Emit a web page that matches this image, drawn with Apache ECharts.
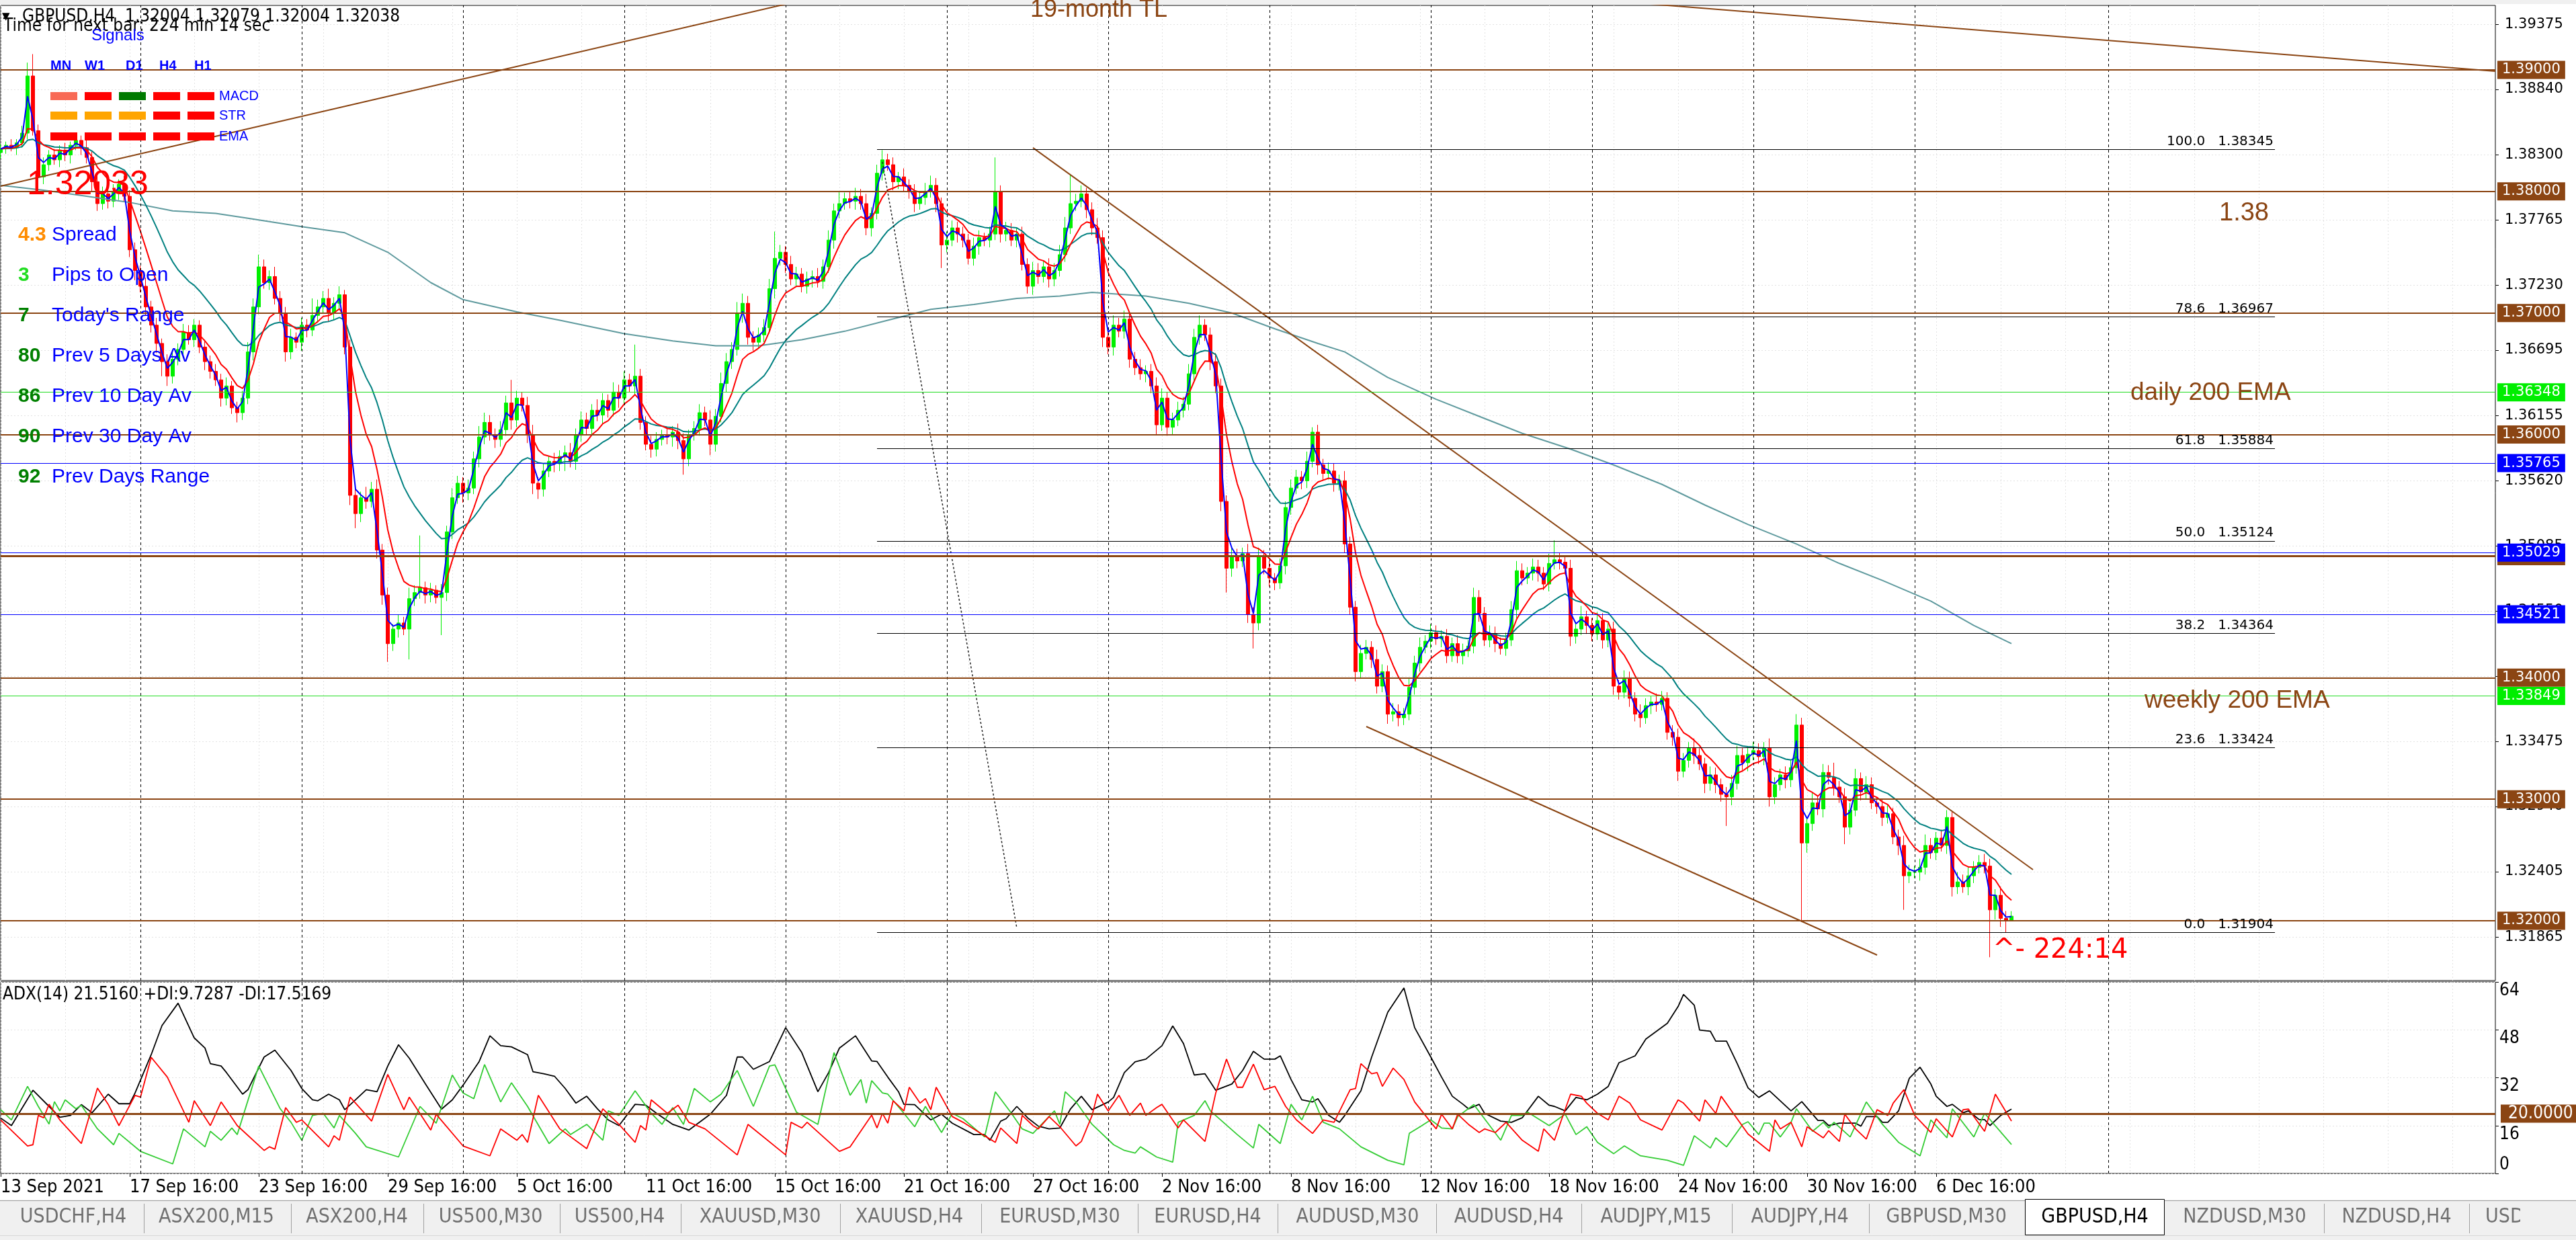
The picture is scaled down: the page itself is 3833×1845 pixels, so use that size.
<!DOCTYPE html>
<html>
<head>
<meta charset="utf-8">
<title>GBPUSD,H4</title>
<script src="https://cdn.jsdelivr.net/npm/echarts@6/dist/echarts.min.js"></script>
<style>
html,body{margin:0;padding:0;background:#ffffff;overflow:hidden}
#chart{width:3833px;height:1845px}
</style>
</head>
<body>
<div id="chart"></div>
<script>
// ================= DATA =================
// H4 candles, prices in pips after "1." (e.g. 3835 -> 1.3835); open = previous close
const firstOpen = 3832;
const closePips = [
3835,3838,3836,3840,3848,3895,3850,3812,3822,3830,
3826,3834,3830,3838,3842,3836,3828,3808,3790,3798,
3792,3800,3806,3796,3752,3735,3722,3705,3690,3675,
3660,3648,3662,3670,3684,3678,3690,3672,3660,3652,
3645,3630,3640,3622,3618,3630,3668,3705,3738,3725,
3730,3712,3700,3668,3680,3676,3690,3686,3698,3705,
3712,3700,3708,3715,3672,3550,3535,3548,3545,3555,
3505,3468,3428,3440,3445,3440,3465,3470,3474,3468,
3472,3466,3470,3520,3548,3560,3552,3556,3580,3598,
3610,3600,3596,3604,3626,3612,3630,3624,3600,3560,
3555,3570,3578,3576,3582,3585,3578,3600,3612,3605,
3620,3616,3628,3620,3635,3630,3645,3640,3648,3610,
3592,3588,3596,3600,3598,3602,3595,3580,3600,3605,
3618,3612,3592,3615,3642,3660,3670,3700,3708,3680,
3676,3682,3688,3720,3745,3750,3740,3728,3732,3722,
3728,3730,3726,3738,3760,3784,3790,3794,3792,3796,
3790,3770,3782,3815,3826,3822,3808,3812,3805,3800,
3790,3795,3800,3805,3790,3756,3760,3770,3765,3760,
3745,3755,3762,3760,3765,3800,3765,3768,3760,3765,
3740,3722,3735,3730,3738,3728,3735,3748,3770,3790,
3792,3798,3785,3770,3762,3680,3672,3690,3685,3695,
3662,3655,3650,3652,3640,3608,3630,3606,3612,3620,
3625,3650,3680,3690,3682,3660,3640,3545,3490,3500,
3496,3502,3452,3445,3500,3490,3482,3478,3492,3540,
3556,3565,3562,3578,3602,3575,3568,3570,3560,3562,
3510,3458,3405,3420,3425,3415,3393,3405,3370,3372,
3367,3370,3392,3412,3425,3430,3437,3432,3434,3418,
3428,3418,3422,3426,3466,3453,3431,3436,3428,3424,
3431,3456,3488,3482,3486,3491,3486,3477,3494,3497,
3495,3490,3434,3440,3450,3443,3436,3447,3431,3440,
3393,3388,3399,3383,3370,3367,3377,3380,3378,3383,
3355,3351,3323,3332,3342,3336,3329,3313,3320,3312,
3304,3302,3313,3336,3330,3337,3340,3335,3342,3302,
3312,3320,3316,3326,3361,3264,3280,3297,3292,3322,
3318,3310,3302,3277,3291,3317,3306,3312,3297,3294,
3285,3288,3269,3262,3237,3240,3240,3244,3262,3256,
3268,3262,3285,3228,3232,3228,3237,3244,3248,3245,
3209,3221,3202,3200.4,3203.8];
// upper / lower wick lengths in pips
const wickUp = [
4,3,5,3,6,11,18,5,6,4, 5,4,6,3,5,4,6,5,8,6, 5,6,4,7,5,6,4,7,5,6, 4,6,8,5,7,6,5,4,6,5,
6,5,7,4,5,6,8,7,10,6, 5,8,6,5,7,4,6,5,14,6, 6,8,5,7,4,6,8,5,9,6, 8,5,6,4,7,5,9,6,43,5,
6,4,7,5,8,6,5,7,6,9, 8,6,5,7,6,19,6,5,7,8, 5,6,4,7,5,6,8,5,7,6, 5,9,6,5,8,6,7,5,26,6,
5,7,6,4,6,5,7,6,4,6, 7,5,8,6,9,7,6,9,8,6, 5,6,7,8,22,6,5,7,6,5, 6,5,7,6,8,6,10,5,6,7,
6,8,5,7,8,5,6,4,7,5, 6,5,7,8,6,5,7,6,5,6, 5,7,6,4,6,28,5,7,6,5, 6,5,7,6,5,7,6,8,9,24,
6,7,5,6,8,6,5,8,6,7, 5,6,7,5,6,7,8,5,6,7, 6,8,7,8,5,6,7,6,5,7, 6,5,8,6,7,5,6,4,6,5,
7,6,5,8,4,6,5,7,6,5, 8,6,5,7,6,5,8,6,5,7, 6,5,7,6,8,5,7,6,5,6, 5,7,6,5,8,6,5,7,6,5,
6,7,8,6,5,7,6,5,8,16, 6,5,7,6,9,5,6,7,6,5, 6,5,7,6,5,8,6,5,7,6, 5,6,7,6,5,8,6,5,7,6,
5,6,7,8,6,5,7,6,5,8, 6,5,7,6,9,6,5,8,6,7, 6,12,5,7,6,8,5,7,6,5, 6,7,5,6,8,6,5,7,9,6,
5,7,6,5,8,6,7,5,6,7, 6,5,7,6,4.1];
const wickDn = [
5,4,3,6,4,5,4,8,6,5, 4,6,5,7,4,6,5,8,6,5, 6,5,7,4,6,8,5,7,6,8, 12,8,6,5,7,4,6,5,7,6,
5,7,6,5,8,6,5,7,6,5, 6,5,7,8,6,5,7,6,5,6, 5,7,6,5,6,8,12,7,6,5, 7,8,15,6,7,5,25,6,5,7,
6,5,31,7,6,5,8,6,5,7, 6,5,7,6,5,8,6,5,7,9, 8,6,5,7,6,12,5,7,6,5, 6,5,7,6,5,8,6,5,7,6,
5,7,6,5,6,8,7,13,6,5, 6,5,9,6,5,7,6,5,8,6, 7,5,6,5,8,6,7,5,6,5, 6,7,5,6,5,7,6,5,6,7,
5,6,7,5,6,5,7,6,5,6, 7,5,6,5,7,19,6,5,7,6, 5,6,7,5,6,5,7,6,5,6, 5,6,7,6,5,7,6,5,6,5,
6,5,7,6,5,8,6,7,5,6, 7,6,5,7,6,8,5,7,6,5, 6,5,7,6,5,7,6,8,20,7, 6,5,7,21,6,5,7,6,5,7,
6,5,7,6,5,8,6,5,7,6, 7,6,8,6,5,7,6,5,8,6, 7,6,5,6,7,5,6,5,7,6, 5,6,7,5,6,7,5,6,7,5,
6,5,7,6,5,6,7,5,6,5, 6,5,8,6,5,7,6,5,7,6, 7,6,5,7,6,8,5,7,6,5, 6,7,8,5,6,7,5,8,6,7,
6,24,7,5,6,7,5,6,7,8, 6,5,7,6,5,65,8,6,5,7, 6,7,5,14,6,5,7,6,5,6, 7,5,6,8,28,6,5,7,6,5,
6,5,7,8,6,5,7,6,5,6, 39,8,7,10,0];
// slow moving average (grey-teal), [bar, pips]
const slowMA = [[0,3805],[8,3801],[16,3796],[24,3791],[32,3784],[40,3782],[46,3778],[56,3771],[64,3766],[72,3750],[80,3725],[86,3711],[96,3701],[104,3694],[116,3683],[125,3677],[133,3673],[141,3673],[149,3678],[157,3685],[165,3694],[173,3703],[181,3707],[189,3712],[197,3714],[203,3717],[213,3714],[221,3708],[229,3700],[237,3687],[245,3675],[250,3668],[258,3647],[267,3629],[275,3615],[283,3601],[292,3588],[300,3575],[309,3559],[317,3542],[325,3526],[334,3510],[342,3494],[350,3480],[359,3463],[367,3443],[374,3428]];
// ADX(14) panel, [bar, value]
const adxMain = [[0,18.5],[2,16.0],[6,27.8],[9,22.4],[11,18.8],[13,19.4],[15,23.0],[17,20.3],[20,26.5],[22,23.3],[24,23.3],[25,26.9],[28,39.7],[30,49.4],[33,56.9],[36,45.3],[38,41.9],[39,36.7],[41,35.9],[42,33.7],[45,26.5],[46,28.0],[49,38.9],[51,41.2],[54,34.4],[56,28.4],[58,24.6],[59,24.3],[61,26.5],[63,24.6],[64,21.3],[66,24.6],[68,28.0],[70,27.3],[72,35.9],[74,43.0],[76,38.5],[79,29.9],[82,21.5],[84,24.6],[86,29.5],[89,37.4],[91,46.0],[93,42.7],[95,42.3],[98,39.7],[99,34.0],[101,33.3],[103,32.5],[105,28.4],[107,23.5],[109,25.8],[111,21.6],[113,17.9],[115,16.0],[118,23.1],[120,22.8],[122,20.1],[125,16.4],[128,14.5],[132,19.8],[135,26.1],[137,38.9],[138,38.9],[140,34.8],[143,37.4],[146,48.7],[149,40.4],[152,27.3],[154,33.7],[156,41.9],[159,46.0],[162,37.6],[163,37.4],[165,32.2],[167,27.3],[168,23.1],[170,23.0],[173,17.9],[175,19.8],[177,16.8],[181,13.0],[183,13.0],[184,11.1],[186,17.5],[187,18.3],[189,22.4],[191,18.6],[193,15.8],[195,14.9],[197,15.2],[199,21.6],[201,25.8],[203,21.3],[206,23.9],[207,25.4],[209,33.7],[211,37.3],[213,38.2],[216,42.7],[218,49.3],[220,43.4],[222,32.9],[224,33.3],[226,27.8],[229,29.9],[231,34.4],[233,40.8],[235,38.2],[237,38.2],[238,39.3],[240,31.4],[242,24.6],[244,23.9],[245,25.0],[247,19.4],[249,17.1],[250,19.4],[253,27.6],[255,38.9],[258,53.9],[261,62.0],[263,48.7],[266,38.9],[268,32.2],[270,25.8],[272,23.1],[273,21.6],[275,23.1],[276,20.1],[279,17.5],[281,17.1],[283,18.6],[286,25.8],[288,22.8],[289,22.4],[291,20.9],[293,25.4],[295,24.6],[297,26.5],[299,29.1],[301,37.0],[304,39.3],[306,44.9],[310,50.2],[312,55.8],[313,59.8],[315,56.2],[316,47.9],[318,47.5],[319,44.2],[321,44.2],[323,36.7],[325,28.6],[327,25.4],[329,27.6],[333,20.9],[335,24.0],[338,17.7],[339,17.7],[340,16.0],[342,16.8],[345,16.8],[346,15.8],[347,19.0],[349,19.0],[350,17.1],[351,17.1],[353,20.9],[355,31.8],[357,35.5],[359,29.9],[360,25.8],[362,22.4],[363,23.1],[365,20.3],[366,20.9],[368,18.0],[369,18.0],[370,16.0],[372,19.4],[374,21.5]];
const plusDI = [[0,21.3],[2,17.9],[5,29.1],[7,22.4],[9,16.5],[10,24.0],[11,20.9],[12,24.6],[14,21.6],[15,22.8],[18,14.9],[21,9.6],[22,13.4],[26,7.4],[32,3.2],[34,14.9],[38,8.9],[39,14.1],[41,11.1],[43,15.2],[44,13.0],[48,35.9],[52,21.6],[54,17.1],[56,11.1],[58,19.4],[60,20.1],[62,15.2],[63,19.4],[66,13.4],[68,8.9],[74,5.5],[78,22.4],[81,16.8],[84,32.9],[86,26.9],[88,25.0],[90,36.4],[93,23.9],[95,30.3],[98,22.4],[102,10.0],[105,14.9],[106,13.0],[109,16.4],[112,11.1],[113,20.9],[115,19.4],[118,27.6],[121,20.1],[123,16.4],[125,22.0],[127,16.4],[129,28.4],[132,23.9],[134,26.5],[137,34.4],[140,22.4],[143,35.9],[144,36.3],[148,20.5],[152,16.4],[155,40.4],[158,26.1],[160,31.4],[161,23.5],[162,31.0],[164,26.9],[165,26.5],[168,20.1],[170,15.6],[172,22.4],[175,13.7],[177,20.1],[179,18.3],[183,12.2],[185,27.3],[188,20.1],[190,14.9],[192,13.4],[196,20.9],[197,16.4],[198,27.3],[200,23.9],[203,16.4],[207,9.6],[209,7.7],[211,6.8],[212,8.9],[215,5.5],[218,3.8],[219,17.1],[222,19.4],[224,24.3],[225,20.9],[230,13.0],[233,8.5],[234,16.4],[238,10.0],[240,23.1],[242,17.9],[244,25.8],[246,17.1],[249,14.9],[253,8.9],[258,4.4],[261,2.9],[262,13.4],[264,15.6],[266,17.9],[268,15.2],[270,14.9],[271,19.0],[274,23.0],[279,11.1],[281,19.4],[283,19.4],[284,20.5],[288,16.0],[291,19.8],[293,13.0],[295,15.6],[297,10.4],[300,6.6],[302,9.2],[305,5.9],[310,4.4],[313,2.7],[315,12.6],[318,8.5],[319,11.9],[321,8.9],[324,16.4],[325,17.3],[327,13.0],[328,16.8],[329,16.8],[331,12.2],[333,17.1],[334,21.6],[337,14.1],[339,17.1],[340,15.2],[341,17.1],[344,12.2],[347,23.9],[350,16.4],[353,10.4],[357,5.9],[359,17.9],[362,11.9],[363,21.6],[367,12.2],[369,20.1],[374,9.7]];
const minusDI = [[0,17.9],[5,9.2],[6,9.6],[7,19.4],[8,18.6],[9,23.1],[11,17.9],[15,10.0],[18,28.5],[20,23.1],[22,16.0],[23,19.4],[25,26.1],[26,25.5],[28,38.8],[31,32.2],[35,17.1],[36,24.3],[39,16.0],[41,23.9],[44,16.0],[49,7.7],[50,8.9],[51,8.1],[53,22.0],[55,17.1],[56,17.9],[61,8.9],[62,12.6],[63,11.1],[65,25.5],[69,17.5],[72,33.1],[75,21.3],[76,25.5],[80,14.5],[81,19.8],[86,9.2],[91,5.9],[93,14.9],[96,11.1],[97,13.0],[98,10.4],[100,26.1],[104,14.9],[109,8.3],[112,21.6],[115,16.4],[118,10.4],[119,16.0],[120,14.5],[121,24.6],[124,20.1],[126,22.8],[128,17.1],[131,14.9],[137,6.2],[139,16.4],[146,6.2],[147,17.1],[149,15.2],[150,17.1],[156,7.4],[158,8.9],[162,19.5],[163,15.2],[164,20.1],[165,16.8],[166,24.3],[168,20.9],[169,28.8],[171,23.5],[172,25.0],[173,21.3],[174,28.8],[177,19.0],[179,17.1],[183,12.6],[185,10.4],[186,15.2],[189,10.0],[190,19.4],[192,16.0],[193,14.9],[195,19.0],[197,15.6],[200,9.2],[201,10.7],[203,19.4],[204,26.5],[206,20.9],[208,26.1],[210,19.4],[212,23.5],[213,19.4],[215,22.0],[216,23.1],[219,15.2],[220,17.9],[224,10.7],[226,26.9],[228,38.2],[230,28.8],[231,28.8],[233,36.5],[235,28.0],[237,29.1],[239,22.4],[241,17.9],[244,13.4],[246,17.9],[248,17.1],[251,28.0],[252,28.4],[253,36.7],[255,33.3],[256,33.7],[257,29.1],[259,35.2],[261,31.4],[263,23.9],[266,17.1],[267,14.9],[268,19.8],[270,14.9],[271,19.8],[273,16.4],[275,13.7],[276,14.9],[278,13.7],[280,17.1],[283,11.1],[286,7.4],[287,14.9],[289,11.1],[290,16.4],[292,26.5],[294,25.8],[295,23.5],[297,20.1],[299,17.9],[301,25.8],[303,23.5],[305,17.9],[309,14.5],[312,24.6],[313,23.5],[316,17.5],[317,24.6],[319,20.1],[320,25.8],[325,13.2],[329,7.4],[330,17.9],[331,14.9],[333,17.1],[335,8.9],[336,15.6],[339,11.9],[340,14.3],[342,10.7],[343,19.8],[345,14.9],[347,11.5],[349,21.3],[351,19.4],[352,23.5],[354,28.0],[356,19.4],[359,13.7],[360,18.3],[363,12.2],[365,21.3],[366,21.5],[369,14.1],[371,26.5],[374,17.5]];

const priceTicks = [1.39375,1.38840,1.38300,1.37765,1.37230,1.36695,1.36155,1.35620,1.35085,1.34550,1.34010,1.33475,1.32940,1.32405,1.31865];
const dateLabels = ['13 Sep 2021','17 Sep 16:00','23 Sep 16:00','29 Sep 16:00','5 Oct 16:00','11 Oct 16:00','15 Oct 16:00','21 Oct 16:00','27 Oct 16:00','2 Nov 16:00','8 Nov 16:00','12 Nov 16:00','18 Nov 16:00','24 Nov 16:00','30 Nov 16:00','6 Dec 16:00'];
const weekSeparators = [26,56,86,116,146,176,206,236,266,296,326,356,392];
const roundLevels = [1.39,1.38,1.37,1.36,1.35,1.34,1.33,1.32];
const greenLevels = [1.36348,1.33849];
const blueLevels = [1.35765,1.35029,1.34521];
const bidPrice = 1.32038;
const fibPct = [100.0,78.6,61.8,50.0,38.2,23.6,0.0];
const fibPrice = [1.38345,1.36967,1.35884,1.35124,1.34364,1.33424,1.31904];
const fibSpan = [163,423];
const trendAsc = [[0,1.38043],[150,1.39582]];
const trendDesc = [[300,1.39566],[464,1.38989]];
const channelUpper = [[192,1.38359],[378,1.32420]];
const channelLower = [[254,1.33598],[349,1.31718]];
const fibDiagonal = [[164,1.38243],[189,1.31939]];
const adxTicks = [0,16,32,48,64];
const adxLevel = 20;
const emaPeriods = {fast:2, mid:8, slow:21};

const headerText = 'GBPUSD,H4  1.32004 1.32079 1.32004 1.32038';
const timerText = 'Time for next bar: 224 min 14 sec';
const adxTitle = 'ADX(14) 21.5160 +DI:9.7287 -DI:17.5169';
const infoRows = [['4.3','Spread'],['3','Pips to Open'],['7',"Today's Range"],['80','Prev 5 Days Av'],['86','Prev 10 Day Av'],['90','Prev 30 Day Av'],['92','Prev Days Range']];
const signalFrames = ['MN','W1','D1','H4','H1'];
const signalRows = ['MACD','STR','EMA'];
const signalState = [['weak-sell','sell','buy','sell','sell'],['neutral','neutral','neutral','sell','sell'],['sell','sell','sell','sell','sell']];
const chartNotes = ['1.32033','19-month TL','1.38','daily 200 EMA','weekly 200 EMA','^- 224:14'];
const tabNames = ['USDCHF,H4','ASX200,M15','ASX200,H4','US500,M30','US500,H4','XAUUSD,M30','XAUUSD,H4','EURUSD,M30','EURUSD,H4','AUDUSD,M30','AUDUSD,H4','AUDJPY,M15','AUDJPY,H4','GBPUSD,M30','GBPUSD,H4','NZDUSD,M30','NZDUSD,H4','USDJPY,M30'];
const activeTab = 'GBPUSD,H4';

// ================= STYLE / LAYOUT =================
const FONT_N = "'Liberation Sans Narrow','DejaVu Sans Condensed','Arial Narrow',sans-serif";
const FONT_T = "'DejaVu Sans',Verdana,Tahoma,sans-serif";
const FONT_A = "'Liberation Sans',Arial,sans-serif";
const BROWN = '#8B4513';
const GRIDC = '#e2e2e2';
const signalColor = {'weak-sell':'#F86A55','sell':'#FF0000','buy':'#007A00','neutral':'#FFA500'};
const infoColors = ['#FF8C00','#22DD22','#008000','#008000','#008000','#008000','#008000'];
const tabCenters = [109,322,531,730,922,1131,1353,1577,1797,2020,2245,2464,2678,2896,3117,3340,3566,3698];
const tabSeps = [214,433,630,833,1013,1250,1460,1693,1901,2137,2353,2577,2781,3458,3674];

// ================= BUILD =================
const N = 465;
const cats = Array.from({length:N}, (_, i) => String(i));
const px = v => +(1 + v / 10000).toFixed(5);
const candles = closePips.map((c, i) => {
  const o = i ? closePips[i - 1] : firstOpen;
  const h = Math.max(o, c) + (wickUp[i] || 0);
  const l = Math.min(o, c) - (wickDn[i] || 0);
  return [px(o), px(c), px(l), px(h)];
});
const closes = candles.map(c => c[1]);
function ema(vals, n) {
  const a = 2 / (n + 1); let e = vals[0];
  return vals.map((v, i) => { e = i ? e + a * (v - e) : v; return [i, +e.toFixed(5)]; });
}
const emaFast = ema(closes, emaPeriods.fast);
const emaMid = ema(closes, emaPeriods.mid);
const emaSlow = ema(closes, emaPeriods.slow);
const slowLine = slowMA.map(p => [p[0], px(p[1])]);

const boxLabel = (bg) => ({show:true, position:'end', distance:3, color:'#fff', backgroundColor:bg,
  padding:[3,7,3,7], fontFamily:FONT_T, fontSize:21, lineHeight:21,
  formatter: p => Number(p.value).toFixed(5)});
const levelData = [];
levelData.push({yAxis:bidPrice, lineStyle:{opacity:0}, label:Object.assign(boxLabel('#000'), {padding:[3,7,9,7]})});
roundLevels.forEach(v => levelData.push({yAxis:v, lineStyle:{color:BROWN, width: v === 1.35 ? 3 : 2, type:'solid'}, label:boxLabel(BROWN)}));
greenLevels.forEach(v => levelData.push({yAxis:v, lineStyle:{color:'#22DD22', width:1, type:'solid'}, label:boxLabel('#00EE00')}));
blueLevels.forEach(v => levelData.push({yAxis:v, lineStyle:{color:'#0000FF', width:1, type:'solid'}, label:boxLabel('#0000FF')}));

const fibData = fibPct.map((pc, k) => [
  {name: pc.toFixed(1) + '   ' + fibPrice[k].toFixed(5), coord:[fibSpan[0], fibPrice[k]]},
  {coord:[fibSpan[1], fibPrice[k]]}
]);

const weekLines = (gi) => ({
  type:'line', xAxisIndex:gi, yAxisIndex:gi === 0 ? 0 : 1, data:[], z:1, silent:true,
  markLine:{symbol:['none','none'], silent:true, animation:false, precision:5, label:{show:false},
    lineStyle:{color:'#000', width:1, type:[4,4]},
    data: weekSeparators.map(i => ({xAxis:i}))}
});
const straight = (pts, color, type, width) => ({type:'line', xAxisIndex:0, yAxisIndex:0, data:pts, showSymbol:false,
  symbol:'none', z:4, silent:true, clip:true, lineStyle:{color, width, type}});
const adxSeries = (pts, color) => ({type:'line', xAxisIndex:1, yAxisIndex:1, data:pts, symbol:'none', showSymbol:false,
  z:4, silent:true, lineStyle:{color, width:1.8}});

// graphics (overlay texts and terminal tabs)
const G = [];
const T = (x, y, text, font, size, fill, weight, align) => G.push({type:'text', x, y, z:60, silent:true,
  style:{text, fontFamily:font, fontSize:size, fontWeight:weight || 'normal', fill, align:align || 'left', verticalAlign:'middle'}});
G.push({type:'rect', shape:{x:0, y:0, width:3833, height:6}, style:{fill:'#f0f0f0'}, z:59});
T(3, 25, '\u25BC', FONT_T, 15, '#000');
T(33, 25, headerText, FONT_N, 26, '#000');
T(5, 39, timerText, FONT_N, 26, '#000');
T(136, 53, 'Signals', FONT_A, 24, '#0000FF');
const frameX = [75,126,187,237,289], boxX = [75,126,177,228,279], rowY = [143,172,203];
signalFrames.forEach((f, k) => T(frameX[k], 98, f, FONT_A, 20, '#0000FF', 'bold'));
signalRows.forEach((r, j) => {
  signalState[j].forEach((s, k) => G.push({type:'rect', z:60, silent:true, shape:{x:boxX[k], y:rowY[j] - 6, width:40, height:12}, style:{fill:signalColor[s]}}));
  T(326, rowY[j], r, FONT_A, 20, '#0000FF');
});
infoRows.forEach((r, k) => { T(27, 350 + 60 * k, r[0], FONT_A, 30, infoColors[k], 'bold'); T(77, 350 + 60 * k, r[1], FONT_A, 30, '#0000FF'); });
T(40, 275, chartNotes[0], FONT_A, 50, '#FF0000');
T(1533, 15, chartNotes[1], FONT_A, 36, BROWN);
T(3302, 318, chartNotes[2], FONT_A, 38, BROWN);
T(3170, 585, chartNotes[3], FONT_A, 37, BROWN);
T(3191, 1043, chartNotes[4], FONT_A, 37, BROWN);
T(2965, 1415, chartNotes[5], FONT_T, 40, '#FF0000');
T(4, 1480, adxTitle, FONT_N, 26, '#000');
// tab strip
G.push({type:'rect', z:58, silent:true, shape:{x:0, y:1785, width:3833, height:60}, style:{fill:'#f0f0f0'}});
G.push({type:'line', z:59, silent:true, shape:{x1:0, y1:1786.5, x2:3833, y2:1786.5}, style:{stroke:'#a0a0a0', lineWidth:1}});
G.push({type:'line', z:59, silent:true, shape:{x1:0, y1:1838.5, x2:3833, y2:1838.5}, style:{stroke:'#d8d8d8', lineWidth:1}});
tabSeps.forEach(x => G.push({type:'line', z:59, silent:true, shape:{x1:x + 0.5, y1:1791, x2:x + 0.5, y2:1835}, style:{stroke:'#a0a0a0', lineWidth:1}}));
G.push({type:'rect', z:59, silent:true, shape:{x:3013.5, y:1784.5, width:207, height:53}, style:{fill:'#ffffff', stroke:'#000', lineWidth:1}});
tabNames.forEach((t, k) => {
  const last = k === tabNames.length - 1;
  T(tabCenters[k], 1811, t, FONT_N, 30, t === activeTab ? '#000' : '#707070', 'normal', last ? 'left' : 'center');
});
G.push({type:'rect', z:61, silent:true, shape:{x:3750, y:1788, width:83, height:50}, style:{fill:'#f0f0f0'}});
T(3760, 1808, '\u25C0', FONT_T, 20, '#b0b0b0');
T(3806, 1808, '\u25B6', FONT_T, 20, '#000');

const chart = echarts.init(document.getElementById('chart'), null, {renderer:'canvas', width:3833, height:1845});
chart.setOption({
  animation:false,
  backgroundColor:'#ffffff',
  grid:[
    {left:1, top:8, width:3712, height:1451, show:true, borderColor:'#000', borderWidth:1, backgroundColor:'#fff', containLabel:false, outerBoundsMode:'none'},
    {left:1, top:1461, width:3712, height:285, show:true, borderColor:'#000', borderWidth:1, backgroundColor:'#fff', containLabel:false, outerBoundsMode:'none'}
  ],
  xAxis:[
    {type:'category', gridIndex:0, data:cats, boundaryGap:false, axisLine:{show:false}, axisTick:{show:false}, axisLabel:{show:false},
      splitLine:{show:true, interval:(i) => i % 12 === 0, lineStyle:{color:GRIDC, type:[2,3], width:1}}},
    {type:'category', gridIndex:1, data:cats, boundaryGap:false, axisLine:{show:false},
      axisTick:{show:true, alignWithLabel:true, interval:(i) => i % 24 === 0 && i <= 360, length:5, lineStyle:{color:'#000'}},
      axisLabel:{show:true, interval:(i) => i % 24 === 0 && i <= 360, formatter:(v, i) => dateLabels[Math.round(i / 24)] || '',
        align:'left', margin:7, fontFamily:FONT_N, fontSize:27, color:'#000'},
      splitLine:{show:true, interval:(i) => i % 12 === 0, lineStyle:{color:GRIDC, type:[2,3], width:1}}}
  ],
  yAxis:[
    {type:'value', gridIndex:0, position:'right', min:1.31508, max:1.395308, scale:true,
      axisLine:{show:false}, axisTick:{show:true, customValues:priceTicks, length:5, lineStyle:{color:'#000'}},
      axisLabel:{show:true, customValues:priceTicks, formatter:v => Number(v).toFixed(5), margin:14, fontFamily:FONT_T, fontSize:21, color:'#000'},
      splitLine:{show:true, lineStyle:{color:GRIDC, type:[2,3], width:1}}},
    {type:'value', gridIndex:1, position:'right', min:0, max:64,
      axisLine:{show:false}, axisTick:{show:true, customValues:adxTicks, length:5, lineStyle:{color:'#000'}},
      axisLabel:{show:true, customValues:adxTicks.filter(v => v > 0), verticalAlign:'top', margin:6, fontFamily:FONT_N, fontSize:26, color:'#000'},
      splitLine:{show:true, lineStyle:{color:GRIDC, type:[2,3], width:1}}},
    {type:'value', gridIndex:1, position:'right', min:0, max:64,
      axisLine:{show:false}, axisTick:{show:false}, splitLine:{show:false},
      axisLabel:{show:true, customValues:[adxTicks[0]], verticalAlign:'bottom', margin:6, fontFamily:FONT_N, fontSize:26, color:'#000'}}
  ],
  graphic:G,
  series:[
    weekLines(0),
    weekLines(1),
    {type:'line', xAxisIndex:0, yAxisIndex:0, data:[], z:1, silent:true,
      markLine:{symbol:['none','none'], silent:true, animation:false, precision:5, data:levelData}},
    {type:'line', xAxisIndex:0, yAxisIndex:0, data:[], z:1, silent:true,
      markLine:{symbol:['none','none'], silent:true, animation:false, precision:5, data:fibData,
        lineStyle:{color:'#000', width:1, type:'solid'},
        label:{show:true, position:'insideEndTop', formatter:'{b}', distance:2, color:'#000', fontFamily:FONT_T, fontSize:20}}},
    {type:'candlestick', xAxisIndex:0, yAxisIndex:0, data:candles, barWidth:5, z:2, silent:true,
      itemStyle:{color:'#00F000', color0:'#FF0000', borderColor:'#00F000', borderColor0:'#FF0000', borderWidth:1}},
    {type:'line', xAxisIndex:0, yAxisIndex:0, data:slowLine, symbol:'none', z:3, silent:true, lineStyle:{color:'#5F9A9E', width:2}},
    {type:'line', xAxisIndex:0, yAxisIndex:0, data:emaSlow, symbol:'none', z:3, silent:true, lineStyle:{color:'#008080', width:2}},
    {type:'line', xAxisIndex:0, yAxisIndex:0, data:emaMid, symbol:'none', z:3, silent:true, lineStyle:{color:'#FF0000', width:2}},
    {type:'line', xAxisIndex:0, yAxisIndex:0, data:emaFast, symbol:'none', z:3, silent:true, lineStyle:{color:'#0000FF', width:2}},
    straight(trendAsc, BROWN, 'solid', 2),
    straight(trendDesc, BROWN, 'solid', 2),
    straight(channelUpper, BROWN, 'solid', 2),
    straight(channelLower, BROWN, 'solid', 2),
    straight(fibDiagonal, '#222', [3,3], 1.5),
    {type:'line', xAxisIndex:1, yAxisIndex:1, data:[], z:1, silent:true,
      markLine:{symbol:['none','none'], silent:true, animation:false, precision:4,
        data:[{yAxis:adxLevel, lineStyle:{color:BROWN, width:3, type:'solid'},
          label:{show:true, position:'end', distance:8, color:'#fff', backgroundColor:BROWN, padding:[1,11,1,11],
            fontFamily:FONT_N, fontSize:26, lineHeight:25, formatter:p => Number(p.value).toFixed(4)}}]}},
    adxSeries(adxMain, '#000000'),
    adxSeries(plusDI, '#33CC33'),
    adxSeries(minusDI, '#FF0000')
  ]
});
</script>
</body>
</html>
